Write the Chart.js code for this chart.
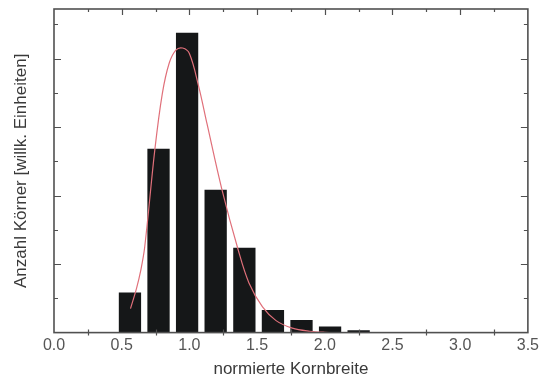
<!DOCTYPE html>
<html>
<head>
<meta charset="utf-8">
<script src="https://cdn.jsdelivr.net/npm/chart.js@4.4.1/dist/chart.umd.min.js"></script>
<style>
  html, body { margin: 0; padding: 0; background: #fff; }
  #wrap { width: 544px; height: 387px; }
</style>
</head>
<body>
<div id="wrap"><canvas id="chart"></canvas></div>
<script>
// Histogramm: Balkenmitten (normierte Kornbreite) und Höhen (willk. Einheiten)
const binCenters = [0.561, 0.772, 0.983, 1.194, 1.406, 1.617, 1.828, 2.039, 2.250];
const binCounts  = [1.17, 5.37, 8.76, 4.17, 2.48, 0.66, 0.37, 0.175, 0.07];

// rote Anpassungskurve
const fitX = [0.565, 0.61, 0.64, 0.67, 0.745, 0.80, 0.85, 0.90, 0.95, 1.00, 1.068, 1.13, 1.239, 1.36, 1.44, 1.54, 1.64, 1.76, 1.89, 2.00, 2.12];
const fitY = [0.70, 1.30, 1.80, 2.50, 5.35, 6.98, 7.86, 8.25, 8.31, 8.15, 7.20, 6.10, 4.20, 2.42, 1.45, 0.75, 0.35, 0.13, 0.04, 0.01, 0.0];

// Achsen
const xMin = 0, xMax = 3.5, xStep = 0.5;
const yMax = 9.45;

const FONT = "'Liberation Sans', Arial, Helvetica, sans-serif";

// Rahmen mit nach innen zeigenden Ticks (wie im Original)
const frameTicks = {
    id: 'frameTicks',
    afterDatasetsDraw(chart) {
        const { ctx, chartArea: a, scales: { x, y } } = chart;
        ctx.save();
        ctx.strokeStyle = '#505050';
        ctx.lineWidth = 1.2;
        ctx.beginPath();
        for (let v = xMin + 0.25; v < xMax - 1e-6; v += 0.25) {
            const px = Math.round(x.getPixelForValue(v)) + 0.5;
            const major = Math.abs(v / xStep - Math.round(v / xStep)) < 1e-6;
            ctx.moveTo(px, a.top);
            ctx.lineTo(px, a.top + (major ? 6 : 3));
            if (!major) {
                ctx.moveTo(px, a.bottom - 3);
                ctx.lineTo(px, a.bottom + 3);
            }
        }
        for (let v = 1; v < yMax; v++) {
            const py = Math.round(y.getPixelForValue(v)) + 0.5;
            const len = v % 2 === 0 ? 7 : 4;
            ctx.moveTo(a.left, py); ctx.lineTo(a.left + len, py);
            ctx.moveTo(a.right, py); ctx.lineTo(a.right - len, py);
        }
        ctx.stroke();
        ctx.lineWidth = 1.6;
        ctx.strokeRect(a.left, a.top, a.right - a.left, a.bottom - a.top);
        ctx.restore();
    }
};

new Chart(document.getElementById('chart'), {
    type: 'bar',
    data: {
        datasets: [
            {
                type: 'line',
                data: fitX.map((v, i) => ({ x: v, y: fitY[i] })),
                borderColor: '#e0707a',
                borderWidth: 1.2,
                pointRadius: 0,
                tension: 0.35,
                fill: false,
                order: 0
            },
            {
                type: 'bar',
                data: binCenters.map((v, i) => ({ x: v, y: binCounts[i] })),
                backgroundColor: '#151718',
                barPercentage: 0.78,
                categoryPercentage: 1,
                order: 1
            }
        ]
    },
    options: {
        responsive: true,
        maintainAspectRatio: false,
        animation: false,
        layout: { padding: { top: 9, right: 12, bottom: 0, left: 0 } },
        plugins: { legend: { display: false }, tooltip: { enabled: false } },
        scales: {
            x: {
                type: 'linear',
                min: xMin,
                max: xMax,
                offset: false,
                grid: { display: false, drawTicks: false },
                border: { display: false },
                ticks: {
                    stepSize: xStep,
                    autoSkip: false,
                    maxRotation: 0,
                    callback: v => Number(v).toFixed(1),
                    font: { family: FONT, size: 16, lineHeight: 1 },
                    color: '#555',
                    padding: 5
                },
                title: {
                    display: true,
                    text: 'normierte Kornbreite',
                    font: { family: FONT, size: 17 },
                    color: '#3a3a3a',
                    padding: { top: 1, bottom: 7 }
                }
            },
            y: {
                min: 0,
                max: yMax,
                grid: { display: false, drawTicks: false },
                border: { display: false },
                ticks: { display: false, stepSize: 1 },
                title: {
                    display: true,
                    text: 'Anzahl Körner [willk. Einheiten]',
                    font: { family: FONT, size: 17 },
                    color: '#3a3a3a',
                    padding: { top: 11, bottom: 22.6 }
                }
            }
        }
    },
    plugins: [frameTicks]
});
</script>
</body>
</html>
